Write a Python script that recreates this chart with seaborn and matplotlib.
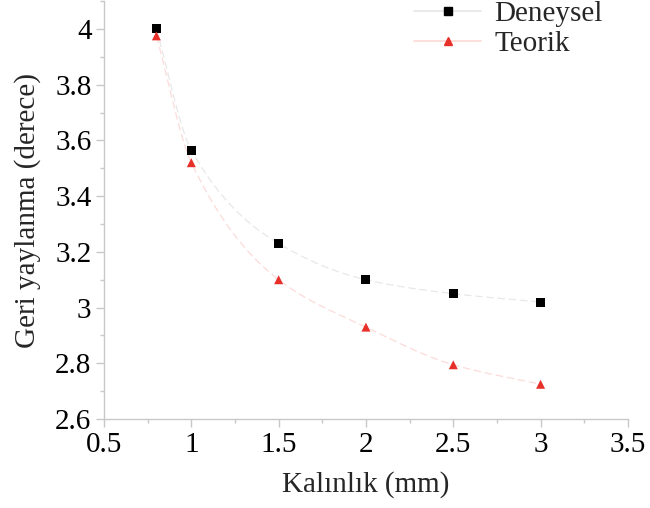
import numpy as np
import pandas as pd
import seaborn as sns
import matplotlib
matplotlib.use("Agg")
import matplotlib.pyplot as plt
from matplotlib.ticker import MultipleLocator
from matplotlib.lines import Line2D

thickness = [0.8, 1.0, 1.5, 2.0, 2.5, 3.0]
deneysel = [4.00, 3.565, 3.23, 3.10, 3.05, 3.02]
teorik = [3.975, 3.52, 3.10, 2.93, 2.795, 2.725]
series_names = ["Deneysel", "Teorik"]

df = pd.DataFrame({
    "Kalınlık": thickness * 2,
    "Geri": deneysel + teorik,
    "Seri": [series_names[0]] * len(thickness) + [series_names[1]] * len(thickness),
})


def pchip(x, y, xs):
    x = np.asarray(x, float)
    y = np.asarray(y, float)
    h = np.diff(x)
    d = np.diff(y) / h
    m = np.zeros_like(y)
    for k in range(1, len(x) - 1):
        if d[k - 1] * d[k] > 0:
            w1 = 2 * h[k] + h[k - 1]
            w2 = h[k] + 2 * h[k - 1]
            m[k] = (w1 + w2) / (w1 / d[k - 1] + w2 / d[k])
    m[0] = d[0]
    m[-1] = d[-1]
    out = np.empty_like(xs)
    for i, xv in enumerate(xs):
        k = min(np.searchsorted(x, xv, side="right") - 1, len(x) - 2)
        k = max(k, 0)
        t = (xv - x[k]) / h[k]
        h00 = 2 * t**3 - 3 * t**2 + 1
        h10 = t**3 - 2 * t**2 + t
        h01 = -2 * t**3 + 3 * t**2
        h11 = t**3 - t**2
        out[i] = h00 * y[k] + h10 * h[k] * m[k] + h01 * y[k + 1] + h11 * h[k] * m[k + 1]
    return out


sns.set_theme(style="white")
plt.rcParams["font.family"] = ["Liberation Serif", "DejaVu Serif"]

fig = plt.figure(figsize=(6.5, 5.08), dpi=100)
ax = fig.add_axes([0.16, 0.175, 0.806, 0.823])

colors = {"Deneysel": "#000000", "Teorik": "#e8302a"}
line_colors = {"Deneysel": "#e8e8e8", "Teorik": "#fbdcd9"}
markers = {"Deneysel": "s", "Teorik": "^"}

xs = np.linspace(thickness[0], thickness[-1], 300)
for name, vals in zip(series_names, [deneysel, teorik]):
    ax.plot(xs, pchip(thickness, vals, xs), color=line_colors[name], lw=0.9,
            ls=(0, (6, 3)), zorder=1)

sns.scatterplot(data=df, x="Kalınlık", y="Geri", hue="Seri", style="Seri",
                palette=colors, markers=markers, s=42, edgecolor="none",
                ax=ax, legend=False, zorder=3)

handles = [Line2D([0], [0], color=line_colors[n], lw=1.3, marker=markers[n],
                  markerfacecolor=colors[n], markeredgecolor=colors[n], markersize=6)
           for n in series_names]
ax.legend(handles, series_names, loc="upper left", bbox_to_anchor=(0.57, 1.028),
          frameon=False, fontsize=21, handlelength=2.3, labelspacing=0.12,
          handletextpad=0.45, borderaxespad=0)

ax.set_xlim(0.5, 3.5)
ax.set_ylim(2.6, 4.1)
ax.xaxis.set_minor_locator(MultipleLocator(0.25))
ax.yaxis.set_minor_locator(MultipleLocator(0.1))
ax.set_xticks([0.5, 1, 1.5, 2, 2.5, 3, 3.5])
ax.set_xticklabels(["0.5", "1", "1.5", "2", "2.5", "3", "3.5"])
ax.set_yticks([2.6, 2.8, 3.0, 3.2, 3.4, 3.6, 3.8, 4.0])
ax.set_yticklabels(["2.6", "2.8", "3", "3.2", "3.4", "3.6", "3.8", "4"])

for s in ["top", "right"]:
    ax.spines[s].set_visible(False)
for s in ["left", "bottom"]:
    ax.spines[s].set_color("#c8c8c8")
    ax.spines[s].set_linewidth(1.0)

ax.tick_params(axis="both", which="major", direction="out", length=6, width=1,
               color="#c8c8c8", labelsize=21, labelcolor="black", pad=3)
ax.tick_params(axis="both", which="minor", direction="out", length=3, width=1,
               color="#c8c8c8")
ax.tick_params(axis="x", which="both", bottom=True)
ax.tick_params(axis="y", which="both", left=True)

ax.set_xlabel("Kalınlık (mm)", fontsize=21, labelpad=10)
ax.set_ylabel("Geri yaylanma (derece)", fontsize=21, labelpad=10)

fig.savefig("out.png", dpi=100)
